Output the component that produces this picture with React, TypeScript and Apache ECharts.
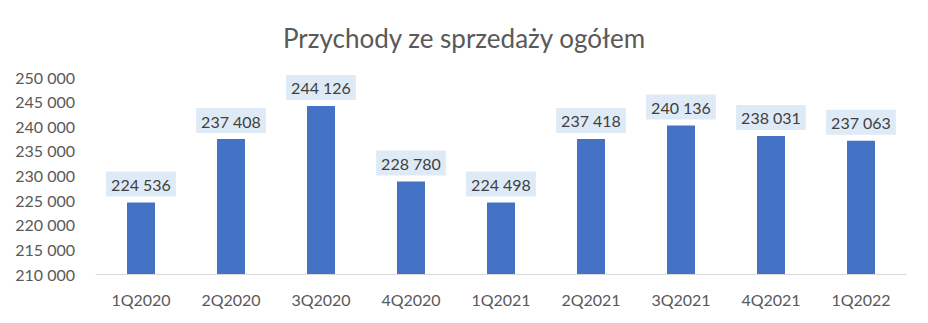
import React, { useEffect, useRef } from "react";
import * as echarts from "echarts";

const categories = ["1Q2020", "2Q2020", "3Q2020", "4Q2020", "1Q2021", "2Q2021", "3Q2021", "4Q2021", "1Q2022"];
const values = [224536, 237408, 244126, 228780, 224498, 237418, 240136, 238031, 237063];
const titleText = "Przychody ze sprzedaży ogółem";

const fmt = (v: number) => String(Math.round(v)).replace(/\B(?=(\d{3})+(?!\d))/g, " ");
const FONT = "Lato, 'Open Sans', sans-serif";

if (typeof document !== "undefined") document.body.style.margin = "0";

export default function App() {
  const ref = useRef<HTMLDivElement>(null);
  useEffect(() => {
    if (!ref.current) return;
    const chart = echarts.init(ref.current, null, { renderer: "svg" });
    chart.setOption({
      animation: false,
      title: {
        text: titleText,
        left: "center",
        top: 20,
        textStyle: { fontFamily: FONT, fontSize: 26, fontWeight: "normal", color: "#595959" },
      },
      grid: { left: 96, right: 22, top: 77, bottom: 49 },
      xAxis: {
        type: "category",
        data: categories,
        axisLine: { lineStyle: { color: "#D9D9D9", width: 1 } },
        axisTick: { show: false },
        axisLabel: { fontFamily: FONT, fontSize: 16, color: "#595959", margin: 17 },
      },
      yAxis: {
        type: "value",
        min: 210000,
        max: 250000,
        interval: 5000,
        splitLine: { show: false },
        axisLine: { show: false },
        axisTick: { show: false },
        axisLabel: { fontFamily: FONT, fontSize: 16, color: "#595959", margin: 21, formatter: (v: number) => fmt(v) },
      },
      series: [
        {
          type: "bar",
          data: values,
          barWidth: 28,
          itemStyle: { color: "#4472C4" },
          label: {
            show: true,
            position: "top",
            distance: 6,
            formatter: (p: any) => fmt(p.value),
            fontFamily: FONT,
            fontSize: 16,
            color: "#404040",
            backgroundColor: "#DEEBF7",
            padding: [5, 5, 4, 5],
          },
        },
      ],
    });
    return () => chart.dispose();
  }, []);
  return <div ref={ref} style={{ width: 928, height: 323 }} />;
}
